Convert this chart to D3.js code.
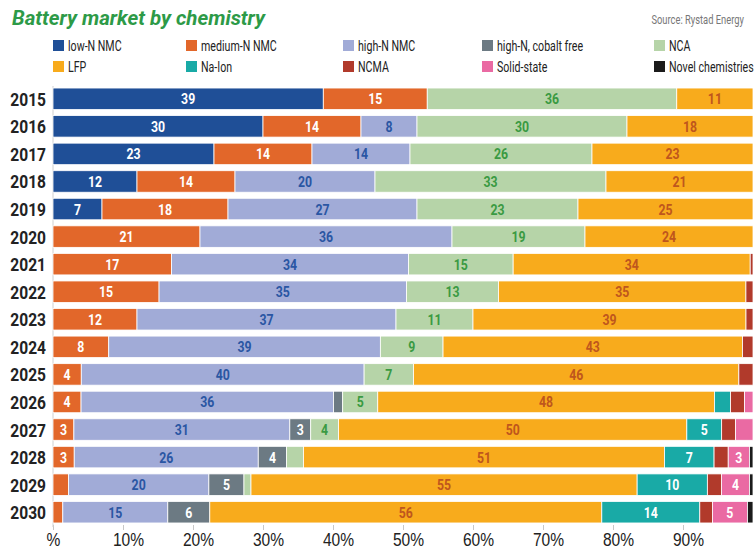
<!DOCTYPE html>
<html>

<head>
    <meta charset="utf-8">
    <style>
        body {
            margin: 0;
            background: #fff;
        }

        svg {
            display: block;
            font-family: Roboto, 'Liberation Sans', sans-serif;
        }

        .x .domain {
            display: none;
        }

        .x .tick line {
            stroke: #c8c8c8;
        }

        .x .tick text {
            font-size: 19px;
            fill: #222;
        }

        .year {
            font-size: 19px;
            font-weight: bold;
            fill: #222;
        }

        .seg-label {
            font-size: 15px;
            font-weight: bold;
        }

        .legend text {
            font-size: 14px;
            fill: #222;
        }
    </style>
</head>

<body>
    <svg width="754" height="553"></svg>
</body>

<script src="https://d3js.org/d3.v7.min.js"></script>

<script>
    let width = 754;
    let height = 553;
    let svg = d3.select("svg");
    let squeeze = 0.82; // fake a condensed face by squeezing text horizontally

    // categories
    let years = ["2015", "2016", "2017", "2018", "2019", "2020", "2021", "2022",
        "2023", "2024", "2025", "2026", "2027", "2028", "2029", "2030"];

    let seriesNames = ["low-N NMC", "medium-N NMC", "high-N NMC", "high-N, cobalt free", "NCA",
        "LFP", "Na-Ion", "NCMA", "Solid-state", "Novel chemistries"];

    // share of market per year (%)
    let lowN       = [39, 30, 23, 12, 7, 0, 0, 0, 0, 0, 0, 0, 0, 0, 0, 0];
    let mediumN    = [15, 14, 14, 14, 18, 21, 17, 15, 12, 8, 4, 4, 3, 3, 2.2, 1.4];
    let highN      = [0, 8, 14, 20, 27, 36, 34, 35, 37, 39, 40, 36, 31, 26, 20, 15];
    let cobaltFree = [0, 0, 0, 0, 0, 0, 0, 0, 0, 0, 0, 1.3, 3, 4, 5, 6];
    let nca        = [36, 30, 26, 33, 23, 19, 15, 13, 11, 9, 7, 5, 4, 2.4, 1, 0];
    let lfp        = [11, 18, 23, 21, 25, 24, 34, 35, 39, 43, 46, 48, 50, 51, 55, 56];
    let naIon      = [0, 0, 0, 0, 0, 0, 0, 0, 0, 0, 0, 2.3, 5, 7, 10, 14];
    let ncma       = [0, 0, 0, 0, 0, 0, 0.4, 1, 1, 1.5, 2, 2, 2, 2, 2, 1.8];
    let solidState = [0, 0, 0, 0, 0, 0, 0, 0, 0, 0, 0, 1.2, 2.5, 3, 4, 5];
    let novel      = [0, 0, 0, 0, 0, 0, 0, 0, 0, 0, 0, 0, 0, 0.5, 0.5, 0.8];

    let seriesValues = [lowN, mediumN, highN, cobaltFree, nca, lfp, naIon, ncma, solidState, novel];

    let tickValues = [0, 0.1, 0.2, 0.3, 0.4, 0.5, 0.6, 0.7, 0.8, 0.9];

    let colors = ["#1f4f97", "#e2672a", "#a1abd7", "#6c7a83", "#b6d4a8",
        "#f8ab1c", "#19aaa6", "#b13a2b", "#ea6aa3", "#1b1b1b"];
    let labelColors = ["#fff", "#fff", "#2a56a3", "#fff", "#3a9a42",
        "#bf561d", "#fff", "#fff", "#fff", "#fff"];

    // build rows for d3.stack
    let data = years.map((y, i) => {
        let row = { year: y };
        seriesNames.forEach((s, j) => row[s] = seriesValues[j][i]);
        return row;
    });

    let stack = d3.stack()
        .keys(seriesNames)
        .offset(d3.stackOffsetExpand);
    let stacked = stack(data);

    let x = d3.scaleLinear()
        .domain([0, 1])
        .range([53, 753]);

    let y = d3.scaleBand()
        .domain(years)
        .range([85, 526])
        .paddingInner(0.22)
        .paddingOuter(0.11);

    // title + source
    svg.append("text")
        .attr("x", 12)
        .attr("y", 25)
        .text("Battery market by chemistry")
        .attr("textLength", 253)
        .attr("lengthAdjust", "spacingAndGlyphs")
        .attr("font-size", 21)
        .attr("font-weight", "bold")
        .attr("font-style", "italic")
        .attr("fill", "#2d9a47");

    svg.append("text")
        .attr("transform", "translate(744,24) scale(0.78,1)")
        .attr("text-anchor", "end")
        .text("Source: Rystad Energy")
        .attr("font-size", 12)
        .attr("fill", "#777");

    // legend, 5 columns x 2 rows
    let legendX = [53, 186, 343, 482, 654];
    let legend = svg.append("g").attr("class", "legend")
        .selectAll("g")
        .data(seriesNames)
        .join("g")
        .attr("transform", (d, i) => `translate(${legendX[i % 5]},${i < 5 ? 46 : 67})`);

    legend.append("rect")
        .attr("x", 0)
        .attr("y", -6)
        .attr("width", 11)
        .attr("height", 11)
        .attr("fill", (d, i) => colors[i]);

    legend.append("text")
        .attr("transform", `translate(15,5) scale(0.76,1)`)
        .text(d => d);

    // x axis, only ticks + labels
    let xAxisSettings = d3.axisBottom(x)
        .tickValues(tickValues)
        .tickSize(5)
        .tickPadding(3)
        .tickFormat(d => d === 0 ? "%" : Math.round(d * 100) + "%");

    svg.append("g")
        .attr("class", "x axis")
        .attr("transform", `translate(0,525)`)
        .call(xAxisSettings)
        .selectAll(".tick text")
        .attr("transform", d => `translate(${d === 0 ? 0 : 5},0) scale(${squeeze},1)`);

    // thin line at zero
    svg.append("line")
        .attr("x1", x(0))
        .attr("x2", x(0))
        .attr("y1", 86)
        .attr("y2", 527)
        .attr("stroke", "#d0d0d0");

    // bars
    let groups = svg.append("g")
        .selectAll("g")
        .data(stacked)
        .join("g")
        .attr("fill", (d, i) => colors[i]);

    groups.selectAll("rect")
        .data(d => d)
        .join("rect")
        .attr("x", d => x(d[0]))
        .attr("y", d => y(d.data.year))
        .attr("width", d => Math.max(0, x(d[1]) - x(d[0])))
        .attr("height", y.bandwidth())
        .attr("stroke", "#fff")
        .attr("stroke-width", 0.8);

    // value labels for the wider segments
    groups.each(function (s, i) {
        d3.select(this).selectAll("text")
            .data(s.filter(d => d.data[s.key] >= 3))
            .join("text")
            .attr("class", "seg-label")
            .attr("transform", d => `translate(${(x(d[0]) + x(d[1])) / 2},${y(d.data.year) + y.bandwidth() / 2 + 5.5}) scale(${squeeze},1)`)
            .attr("text-anchor", "middle")
            .attr("fill", labelColors[i])
            .text(d => Math.round(d.data[s.key]));
    });

    // year labels
    svg.append("g")
        .selectAll("text")
        .data(years)
        .join("text")
        .attr("class", "year")
        .attr("transform", d => `translate(46,${y(d) + y.bandwidth() / 2 + 7}) scale(${squeeze},1)`)
        .attr("text-anchor", "end")
        .text(d => d);

</script>

</html>
